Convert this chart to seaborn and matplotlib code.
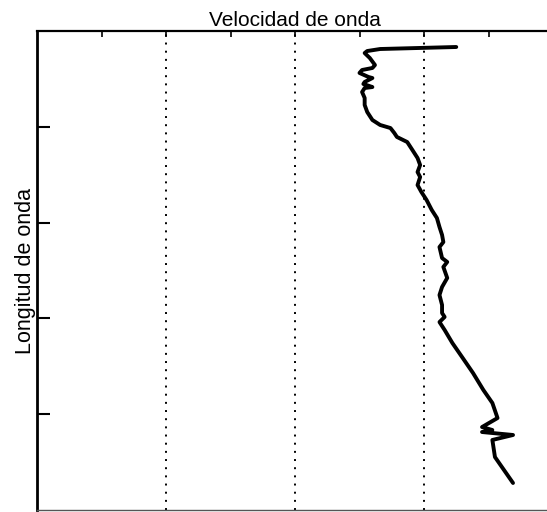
import matplotlib
matplotlib.use("Agg")
import matplotlib.pyplot as plt
import seaborn as sns
import pandas as pd

sns.set_style("white")
plt.rcParams["font.family"] = ["Liberation Sans", "DejaVu Sans"]

# Velocity profile (m/s) against wavelength (m), wavelength increasing downward
velocidad = [325, 266, 256, 254, 258, 262, 260, 252, 250, 257, 260, 254, 253, 260,
             254, 252, 254, 254, 256, 260, 266, 274, 277, 279, 287, 291, 295, 297,
             295, 297, 295, 298, 302, 306, 310, 312, 314, 315, 312, 314, 318, 315,
             318, 314, 312, 314, 314, 316, 312, 316, 322, 330, 338, 346, 353, 357,
             345, 353, 345, 369, 353, 355, 369]
longitud = [1.67, 1.88, 2.09, 2.30, 2.82, 3.55, 3.86, 4.07, 4.38, 4.80, 4.91, 5.32,
            5.53, 5.85, 5.95, 6.37, 6.99, 7.72, 8.46, 9.29, 9.81, 10.13, 10.65, 11.06,
            11.59, 12.42, 13.26, 13.99, 14.72, 15.24, 16.08, 16.81, 17.64, 18.68,
            19.52, 20.46, 21.29, 22.03, 22.55, 23.70, 24.11, 24.63, 25.78, 26.72,
            27.56, 28.60, 29.44, 29.85, 30.38, 31.21, 32.57, 34.13, 35.70, 37.47,
            38.83, 40.40, 41.34, 41.65, 41.86, 42.17, 42.69, 44.47, 47.18]

x_major = [100, 200, 300]
x_minor = [50, 150, 250, 350]
y_ticks = [10, 20, 30, 40]

df = pd.DataFrame({"velocidad": velocidad, "longitud": longitud})

fig = plt.figure(figsize=(5.47, 5.12), dpi=100)
ax = fig.add_axes([37 / 547, 1 - 510 / 512, (553 - 37) / 547, (510 - 31) / 512])

sns.lineplot(data=df, x="velocidad", y="longitud", sort=False, estimator=None,
             color="black", linewidth=2.8, ax=ax)
for ln in ax.lines:
    ln.set_solid_joinstyle("round")
    ln.set_solid_capstyle("round")

ax.set_xlim(0, 400)
ax.set_ylim(50, 0)

# dotted grid on the major velocity ticks only
for xv in x_major:
    ax.axvline(xv, color="black", linestyle=(0, (1, 3.2)), linewidth=1.4, zorder=0)

ax.set_xticks(x_major)
ax.set_xticks(x_minor, minor=True)
ax.set_yticks(y_ticks)
ax.tick_params(axis="x", which="both", direction="in", top=True, bottom=False,
               labeltop=False, labelbottom=False, length=4, width=1.2, color="black")
ax.tick_params(axis="y", direction="in", left=True, right=False, labelleft=False,
               length=9, width=1.5, color="black")

for side in ["left", "top", "right"]:
    ax.spines[side].set_color("black")
ax.spines["left"].set_linewidth(2.0)
ax.spines["top"].set_linewidth(1.6)
ax.spines["bottom"].set_color("#555555")
ax.spines["bottom"].set_linewidth(1.0)

ax.set_xlabel("")
ax.set_title("Velocidad de onda", fontsize=15, pad=3.5, color="black")
ax.set_ylabel("Longitud de onda", fontsize=15.5, labelpad=1, color="black")

fig.savefig("out.png", dpi=100)
